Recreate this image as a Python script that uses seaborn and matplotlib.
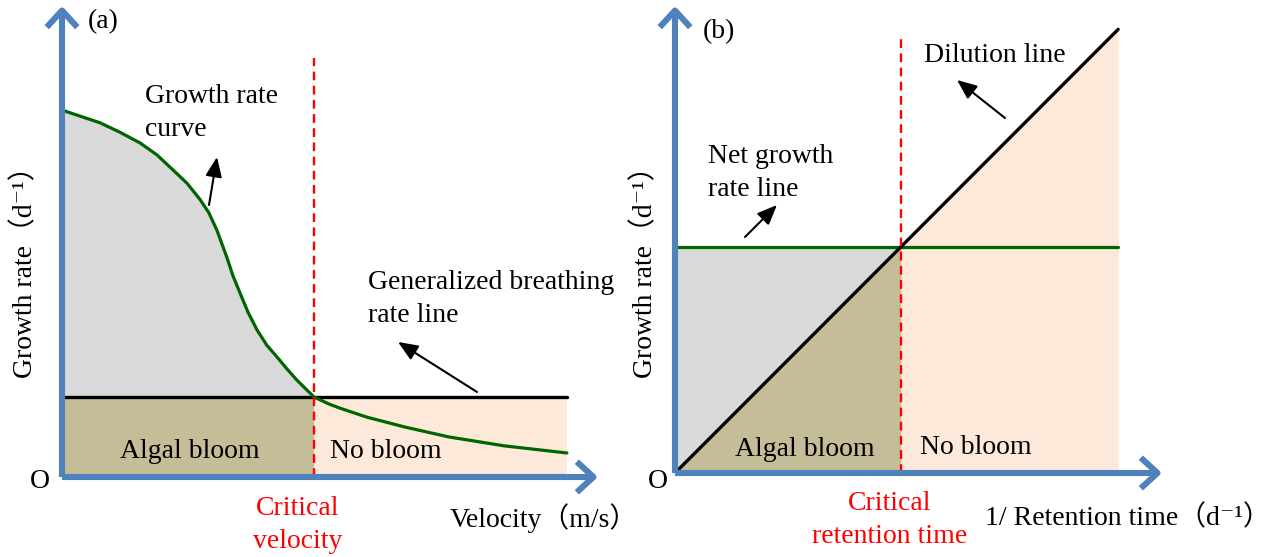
import numpy as np
import matplotlib.pyplot as plt
import seaborn as sns

# panel (a): growth rate curve vs velocity (schematic units, 0-10)
velocity = [0.0, 0.71, 1.08, 1.46, 1.77, 2.07, 2.33, 2.57, 2.74, 2.89, 3.08, 3.19, 3.32, 3.47,
            3.64, 3.82, 4.01, 4.20, 4.38, 4.70, 4.98, 5.19, 5.69, 6.40, 7.22, 8.26, 9.42]
growth_curve = [7.79, 7.52, 7.32, 7.09, 6.84, 6.52, 6.24, 5.90, 5.61, 5.24, 4.65, 4.27, 3.91, 3.50,
                3.12, 2.80, 2.55, 2.29, 2.06, 1.70, 1.55, 1.46, 1.27, 1.06, 0.85, 0.66, 0.51]
breathing_level = 1.70
critical_velocity = 4.70
shade_end_a = 9.42
dash_top_a = 8.9

# panel (b): net growth rate vs dilution line
net_growth_level = 4.84
dilution_x = [0.0, 9.10]
dilution_y = [0.0, 9.50]
critical_retention = 4.64
shade_end_b = 9.10
dash_top_b = 9.38

blue = '#4f81bd'
green = '#006400'
gray = '#d9d9d9'
olive = '#c4bd97'
peach = '#fde9d9'

sns.set_style('white')
plt.rcParams['font.family'] = ['Liberation Serif', 'Noto Sans CJK SC', 'DejaVu Serif']
plt.rcParams['text.color'] = 'black'

W, H = 1269, 557
fig = plt.figure(figsize=(W / 100, H / 100), dpi=100)


def px(x, y):
    return x / W, 1 - y / H


def make_ax(x0, x1, y0, y1):
    # axes whose 0..10 data range spans the given pixel box
    ax = fig.add_axes([x0 / W, 1 - y0 / H, (x1 - x0) / W, (y0 - y1) / H])
    ax.set_xlim(0, 10)
    ax.set_ylim(0, 10)
    ax.axis('off')
    return ax


def axis_arrows(ax):
    style = dict(arrowstyle='->,head_length=0.6,head_width=0.55', color=blue, lw=4.4,
                 mutation_scale=20, shrinkA=0, shrinkB=0, capstyle='butt')
    ax.annotate('', xy=(10, 0), xytext=(0, 0), arrowprops=style, annotation_clip=False, zorder=10)
    ax.annotate('', xy=(0, 10), xytext=(0, 0), arrowprops=style, annotation_clip=False, zorder=10)


def ftext(x, y, s, **kw):
    kw.setdefault('fontsize', 20)
    kw.setdefault('va', 'center')
    kw.setdefault('linespacing', 1.42)
    kw.setdefault('color', 'black')
    fig.text(*px(x, y), s, **kw)


def farrow(x0, y0, x1, y1):
    fig.add_artist(plt.Annotation('', xy=px(x1, y1), xytext=px(x0, y0), xycoords='figure fraction',
                                  textcoords='figure fraction',
                                  arrowprops=dict(arrowstyle='-|>,head_length=0.6,head_width=0.25',
                                                  color='black', lw=1.5, mutation_scale=20,
                                                  shrinkA=0, shrinkB=0)))


# ---------------- panel (a)
ax1 = make_ax(62, 598, 477, 6)
vel = np.array(velocity)
gc = np.array(growth_curve)
left = vel <= critical_velocity
ax1.fill_between(vel[left], gc[left], breathing_level, color=gray, lw=0, zorder=1)
ax1.fill_between([0, critical_velocity], 0, breathing_level, color=olive, lw=0, zorder=1)
ax1.fill_between([critical_velocity, shade_end_a], 0, breathing_level, color=peach, lw=0, zorder=1)
sns.lineplot(x=[0, shade_end_a], y=[breathing_level, breathing_level], ax=ax1, color='black', lw=2.4, zorder=3)
sns.lineplot(x=vel, y=gc, ax=ax1, color=green, lw=2.3, zorder=4, sort=False)
ax1.vlines(critical_velocity, 0, dash_top_a, colors='red', linestyles=(0, (3.7, 2.3)), lw=1.7, zorder=5)
axis_arrows(ax1)

ftext(88, 22, '(a)')
ftext(145, 113, 'Growth rate\ncurve')
farrow(209, 205, 217, 157)
ftext(368, 299, 'Generalized breathing\nrate line')
farrow(477, 392, 398, 342)
ftext(190, 452, 'Algal bloom', ha='center')
ftext(330, 452, 'No bloom')
ftext(40, 482, 'O', ha='center')
ftext(298, 525, 'Critical\nvelocity', ha='center', color='red')
ftext(450, 518, 'Velocity（m/s）')
ftext(25, 265, 'Growth rate（d⁻¹）', ha='center', rotation=90)

# ---------------- panel (b)
ax2 = make_ax(675, 1162, 473, 6)
d_at_crit = np.interp(critical_retention, dilution_x, dilution_y)
ax2.fill_between([0, critical_retention], [0, d_at_crit], net_growth_level, color=gray, lw=0, zorder=1)
ax2.fill_between([0, critical_retention], 0, [0, d_at_crit], color=olive, lw=0, zorder=1)
ax2.fill_between([critical_retention, shade_end_b], 0, [d_at_crit, dilution_y[-1]], color=peach, lw=0, zorder=1)
sns.lineplot(x=[0, shade_end_b], y=[net_growth_level, net_growth_level], ax=ax2, color=green, lw=2.3, zorder=3)
sns.lineplot(x=dilution_x, y=dilution_y, ax=ax2, color='black', lw=2.4, zorder=4)
ax2.vlines(critical_retention, 0, dash_top_b, colors='red', linestyles=(0, (3.7, 2.3)), lw=1.7, zorder=5)
axis_arrows(ax2)

ftext(703, 32, '(b)')
ftext(924, 55, 'Dilution line')
farrow(1005, 118, 957, 80)
ftext(708, 173, 'Net growth\nrate line')
farrow(745, 237, 777, 205)
ftext(805, 450, 'Algal bloom', ha='center')
ftext(920, 448, 'No bloom')
ftext(658, 482, 'O', ha='center')
ftext(890, 520, 'Critical\nretention time', ha='center', color='red')
ftext(985, 518, '1/ Retention time（d⁻¹）')
ftext(645, 265, 'Growth rate（d⁻¹）', ha='center', rotation=90)

fig.savefig('out.png', dpi=100)
